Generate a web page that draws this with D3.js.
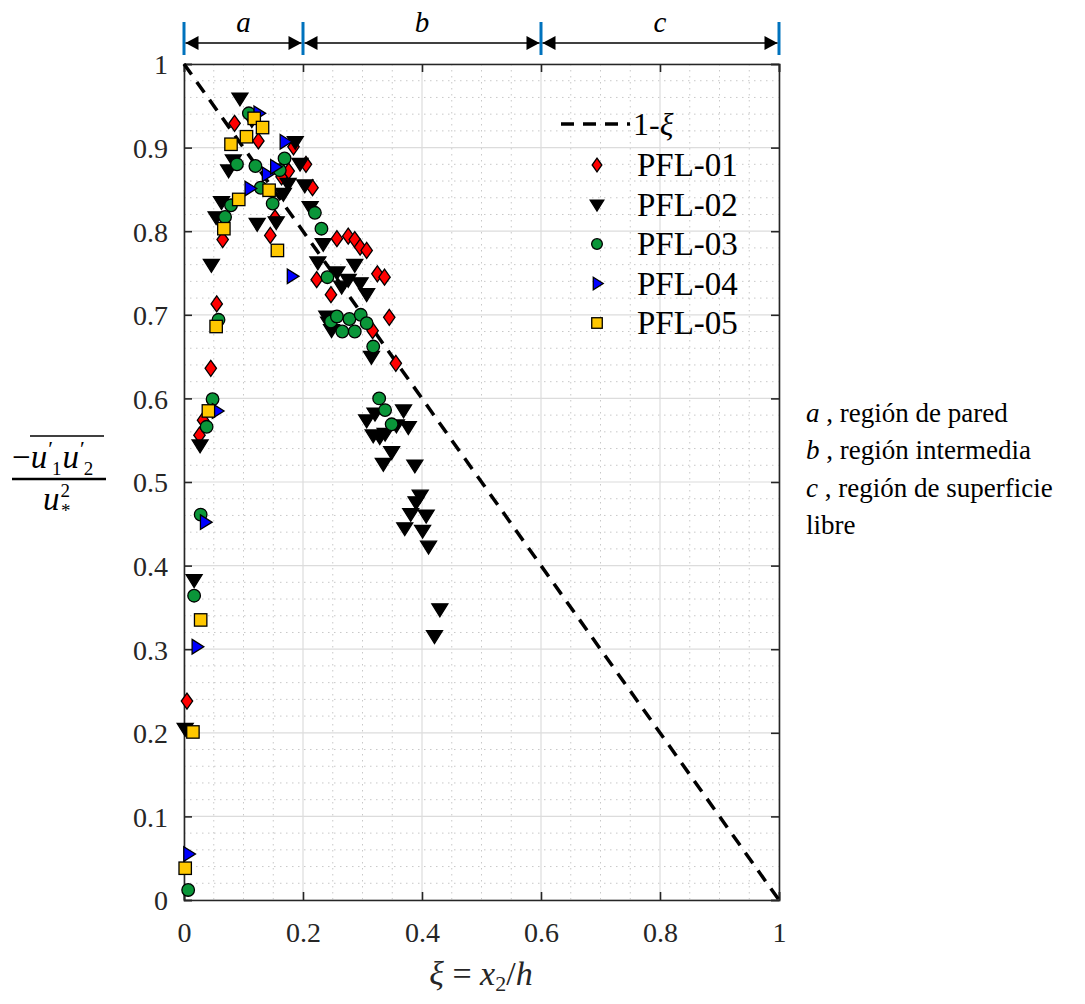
<!DOCTYPE html>
<html><head><meta charset="utf-8">
<script src="https://cdn.jsdelivr.net/npm/d3@7"></script>
<style>body{margin:0;background:#fff}svg{display:block}svg text{font-family:"Liberation Serif",Tinos,"Times New Roman",Times,"DejaVu Serif",serif}</style>
</head><body>
<script>
const pfl01 = [[0.005,0.238],[0.026,0.556],[0.032,0.574],[0.045,0.636],[0.055,0.713],[0.065,0.790],[0.085,0.929],[0.125,0.908],[0.145,0.795],[0.153,0.816],[0.164,0.865],[0.176,0.872],[0.184,0.901],[0.205,0.880],[0.216,0.852],[0.223,0.742],[0.247,0.724],[0.257,0.791],[0.276,0.794],[0.287,0.790],[0.296,0.781],[0.307,0.777],[0.317,0.681],[0.325,0.749],[0.337,0.745],[0.345,0.697],[0.356,0.642]];
const pfl02 = [[0.002,0.205],[0.017,0.383],[0.027,0.544],[0.046,0.760],[0.054,0.817],[0.063,0.835],[0.075,0.873],[0.083,0.885],[0.094,0.959],[0.114,0.933],[0.123,0.809],[0.155,0.811],[0.167,0.845],[0.175,0.857],[0.187,0.907],[0.195,0.881],[0.203,0.855],[0.212,0.829],[0.225,0.763],[0.234,0.785],[0.240,0.698],[0.243,0.691],[0.248,0.682],[0.257,0.751],[0.265,0.734],[0.276,0.742],[0.287,0.760],[0.296,0.738],[0.307,0.725],[0.315,0.650],[0.307,0.574],[0.321,0.582],[0.318,0.556],[0.329,0.554],[0.338,0.558],[0.357,0.568],[0.369,0.586],[0.377,0.566],[0.349,0.536],[0.335,0.522],[0.388,0.520],[0.397,0.484],[0.390,0.476],[0.381,0.462],[0.407,0.460],[0.371,0.445],[0.401,0.442],[0.411,0.423],[0.430,0.348],[0.421,0.316]];
const pfl03 = [[0.007,0.012],[0.017,0.364],[0.028,0.461],[0.038,0.566],[0.048,0.599],[0.058,0.694],[0.069,0.817],[0.079,0.831],[0.089,0.880],[0.109,0.941],[0.120,0.878],[0.129,0.852],[0.149,0.833],[0.161,0.873],[0.169,0.887],[0.220,0.822],[0.231,0.803],[0.241,0.745],[0.247,0.692],[0.257,0.698],[0.266,0.680],[0.278,0.695],[0.287,0.680],[0.297,0.700],[0.307,0.690],[0.318,0.662],[0.328,0.600],[0.338,0.586],[0.349,0.569]];
const pfl04 = [[0.007,0.055],[0.021,0.303],[0.035,0.452],[0.055,0.585],[0.110,0.851],[0.125,0.941],[0.139,0.868],[0.153,0.877],[0.169,0.907],[0.181,0.746]];
const pfl05 = [[0.002,0.038],[0.015,0.201],[0.028,0.335],[0.041,0.585],[0.054,0.686],[0.067,0.803],[0.079,0.904],[0.092,0.838],[0.105,0.913],[0.118,0.935],[0.132,0.924],[0.143,0.849],[0.157,0.777]];
const seriesNames = ["PFL-01","PFL-02","PFL-03","PFL-04","PFL-05"];
const xTicks = [0,0.2,0.4,0.6,0.8,1];
const yTicks = [0,0.1,0.2,0.3,0.4,0.5,0.6,0.7,0.8,0.9,1];
const regionBounds = [0,0.2,0.6,1];
const regionLabels = ["a","b","c"];
const regionNotes = [["a"," , región de pared"],["b"," , región intermedia"],["c"," , región de superficie"],["","libre"]];

const W=1085,H=1004, L=184,R=779,T=64,B=900;
const svg=d3.select("body").append("svg").attr("width",W).attr("height",H);
const x=d3.scaleLinear().domain([0,1]).range([L,R]);
const y=d3.scaleLinear().domain([0,1]).range([B,T]);
const serif='"Liberation Serif",Tinos,"Times New Roman",Times,"DejaVu Serif",serif';
const axisCol="#262626";

const g=svg.append("g");
g.selectAll(".mx").data(d3.range(0.05,1,0.05).filter(v=>Math.abs(v*5-Math.round(v*5))>1e-6)).join("line")
 .attr("x1",d=>x(d)).attr("x2",d=>x(d)).attr("y1",T).attr("y2",B)
 .attr("stroke","#c8c8c8").attr("stroke-width",1).attr("stroke-dasharray","1.5,4.5");
g.selectAll(".my").data(d3.range(0.02,1,0.02).filter(v=>Math.abs(v*10-Math.round(v*10))>1e-6)).join("line")
 .attr("y1",d=>y(d)).attr("y2",d=>y(d)).attr("x1",L).attr("x2",R)
 .attr("stroke","#c8c8c8").attr("stroke-width",1).attr("stroke-dasharray","1.5,4.5");
g.selectAll(".gx").data(xTicks).join("line")
 .attr("x1",d=>x(d)).attr("x2",d=>x(d)).attr("y1",T).attr("y2",B).attr("stroke","#dcdcdc").attr("stroke-width",1.2);
g.selectAll(".gy").data(yTicks).join("line")
 .attr("y1",d=>y(d)).attr("y2",d=>y(d)).attr("x1",L).attr("x2",R).attr("stroke","#dcdcdc").attr("stroke-width",1.2);

const fmt=d=>d===0?"0":d===1?"1":d3.format(".1f")(d);
const ax=svg.append("g").attr("transform",`translate(0,${B})`).call(d3.axisBottom(x).tickValues(xTicks).tickSize(-8).tickPadding(22).tickFormat(fmt));
const axT=svg.append("g").attr("transform",`translate(0,${T})`).call(d3.axisTop(x).tickValues(xTicks).tickSize(-8).tickFormat(""));
const ay=svg.append("g").attr("transform",`translate(${L},0)`).call(d3.axisLeft(y).tickValues(yTicks).tickSize(-8).tickPadding(16).tickFormat(fmt));
const ayR=svg.append("g").attr("transform",`translate(${R},0)`).call(d3.axisRight(y).tickValues(yTicks).tickSize(-8).tickFormat(""));
[ax,axT,ay,ayR].forEach(a=>{
  a.attr("font-family",null).style("font-family",serif);
  a.select(".domain").attr("stroke",axisCol).attr("stroke-width",1.6);
  a.selectAll(".tick line").attr("stroke",axisCol).attr("stroke-width",1.6);
  a.selectAll("text").style("font-family",serif).attr("font-size",28).attr("fill",axisCol);
});
ay.selectAll("text").attr("dy","0.35em");

svg.append("line").attr("x1",x(0)).attr("y1",y(1)).attr("x2",x(1)).attr("y2",y(0))
 .attr("stroke","#000").attr("stroke-width",3.5).attr("stroke-dasharray","13,9");

function drawMarker(sel,name,cx,cy,scale){
  scale=scale||1;
  const gg=sel.append("g").attr("transform",`translate(${cx},${cy})`);
  const sw=1.3;
  if(name==="PFL-01"){
    gg.append("path").attr("d",`M0,${-8*scale}L${5.7*scale},0L0,${8*scale}L${-5.7*scale},0Z`).attr("fill","#ff0000").attr("stroke","#000").attr("stroke-width",sw);
  }else if(name==="PFL-02"){
    const s=8*scale;
    gg.append("path").attr("d",`M${-s},${-s*0.65}L${s},${-s*0.65}L0,${s*0.95}Z`).attr("fill","#000").attr("stroke","#000").attr("stroke-width",sw);
  }else if(name==="PFL-03"){
    gg.append("circle").attr("r",6.3*scale).attr("fill","#0a9639").attr("stroke","#000").attr("stroke-width",sw);
  }else if(name==="PFL-04"){
    const s=7.3*scale;
    gg.append("path").attr("d",`M${-s*0.6},${-s}L${s},0L${-s*0.6},${s}Z`).attr("fill","#0000ff").attr("stroke","#000").attr("stroke-width",sw);
  }else{
    const s=6.2*scale;
    gg.append("rect").attr("x",-s).attr("y",-s).attr("width",2*s).attr("height",2*s).attr("fill","#ffc800").attr("stroke","#000").attr("stroke-width",sw);
  }
}
const allSeries=[pfl01,pfl02,pfl03,pfl04,pfl05];
const pg=svg.append("g");
allSeries.forEach((data,i)=>{
  data.forEach(d=>drawMarker(pg,seriesNames[i],x(d[0]),y(d[1])));
});

const lg=svg.append("g");
lg.append("line").attr("x1",561).attr("x2",630).attr("y1",124).attr("y2",124).attr("stroke","#000").attr("stroke-width",3.5).attr("stroke-dasharray","13,9");
const lt=lg.append("text").attr("x",633).attr("y",135).attr("font-size",32);
lt.append("tspan").text("1-");
lt.append("tspan").attr("font-style","italic").text("ξ");
seriesNames.forEach((n,i)=>{
  const cy=165+i*39.5;
  drawMarker(lg,n,597,cy,0.85);
  lg.append("text").attr("x",637).attr("y",cy+11).attr("font-size",33).attr("fill","#000").text(n);
});

const ann=svg.append("g");
regionBounds.forEach(b=>{
  ann.append("line").attr("x1",x(b)).attr("x2",x(b)).attr("y1",22).attr("y2",55).attr("stroke","#0072bd").attr("stroke-width",3);
});
const ay0=43;
for(let i=0;i<3;i++){
  const x0=x(regionBounds[i])+1.5,x1=x(regionBounds[i+1])-1.5;
  ann.append("line").attr("x1",x0).attr("x2",x1).attr("y1",ay0).attr("y2",ay0).attr("stroke","#000").attr("stroke-width",1.5);
  ann.append("path").attr("d",`M${x0},${ay0}L${x0+13},${ay0-7}L${x0+13},${ay0+7}Z`).attr("fill","#000");
  ann.append("path").attr("d",`M${x1},${ay0}L${x1-13},${ay0-7}L${x1-13},${ay0+7}Z`).attr("fill","#000");
  ann.append("text").attr("x",(x0+x1)/2).attr("y",32).attr("text-anchor","middle").attr("font-style","italic").attr("font-size",29).text(regionLabels[i]);
}

regionNotes.forEach((n,i)=>{
  const t=svg.append("text").attr("x",806).attr("y",422+i*37.3).attr("font-size",27).attr("fill","#000");
  if(n[0]) t.append("tspan").attr("font-style","italic").text(n[0]);
  t.append("tspan").text(n[1]);
});

const xl=svg.append("text").attr("x",481).attr("y",985).attr("text-anchor","middle").attr("font-size",34).attr("fill",axisCol);
xl.append("tspan").attr("font-style","italic").text("ξ");
xl.append("tspan").text(" = ");
xl.append("tspan").attr("font-style","italic").text("x");
xl.append("tspan").attr("font-size",22).attr("dy",6).text("2");
xl.append("tspan").attr("dy",-6).text("/");
xl.append("tspan").attr("font-style","italic").text("h");

// y label as a fraction; numerator built as a single text with raised primes and lowered subscripts
const yl=svg.append("g").attr("fill","#000");
const num=yl.append("text").attr("x",12).attr("y",468).attr("font-size",33);
num.append("tspan").text("−");
num.append("tspan").attr("font-style","italic").text("u");
num.append("tspan").attr("font-size",22).attr("dy",-12).attr("dx",1).text("′");
num.append("tspan").attr("font-size",19).attr("dy",19).attr("dx",-1).text("1");
num.append("tspan").attr("font-style","italic").attr("dy",-7).attr("dx",1).text("u");
num.append("tspan").attr("font-size",22).attr("dy",-12).attr("dx",1).text("′");
num.append("tspan").attr("font-size",19).attr("dy",19).attr("dx",-1).text("2");
yl.append("line").attr("x1",30).attr("x2",104).attr("y1",436).attr("y2",436).attr("stroke","#000").attr("stroke-width",1.5);
yl.append("line").attr("x1",12).attr("x2",106).attr("y1",479).attr("y2",479).attr("stroke","#000").attr("stroke-width",2.5);
const den=yl.append("text").attr("x",43).attr("y",510).attr("font-size",33);
den.append("tspan").attr("font-style","italic").text("u");
den.append("tspan").attr("font-size",19).attr("dy",-13).attr("dx",1).text("2");
den.append("tspan").attr("font-size",19).attr("dy",20).attr("dx",-9).text("*");
</script>
</body></html>
